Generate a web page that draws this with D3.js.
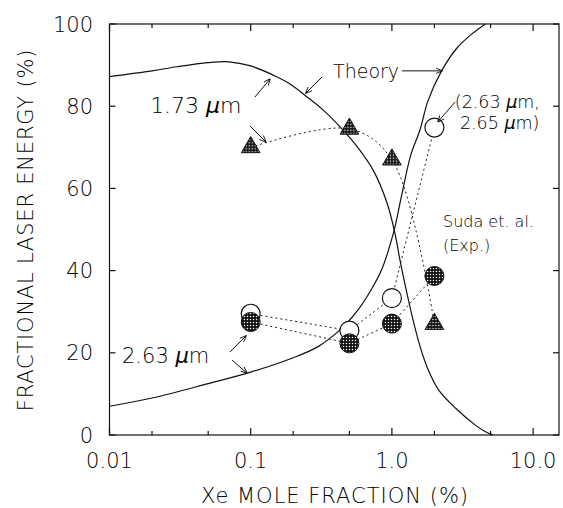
<!DOCTYPE html>
<html><head><meta charset="utf-8">
<script src="https://cdn.jsdelivr.net/npm/d3@7"></script>
<style>
html,body{margin:0;padding:0;background:#fff;}
text{font-family:"DejaVu Sans",sans-serif;font-weight:200;fill:#000;}
</style></head>
<body><svg id="c" width="563" height="508"></svg>
<script>
// ---- data ----
const theory173X = [0.01,0.02,0.03,0.05,0.07,0.1,0.15,0.19,0.243,0.325,0.451,0.566,0.735,0.923,1.05,1.14,1.25,1.4,1.6,1.8,2.14,2.83,3.9,4.6,5.2];
const theory173Y = [87.2,88.6,89.6,90.6,90.8,89.8,87.3,85.4,82.6,79.1,74.2,70.2,64.5,56.5,49.1,42.6,36,28.5,21,16,11,6.5,2.4,0.8,0];
const theory263X = [0.01,0.02,0.05,0.1,0.2,0.3,0.424,0.474,0.586,0.72,0.85,1.03,1.17,1.36,1.58,1.8,2.25,2.88,3.6,4.6];
const theory263Y = [7.0,9.0,12.5,15.3,18.8,21.5,25.4,27.0,30.8,35.6,40.4,49.4,58.2,68.1,74.2,81.3,88.6,94.1,97.3,100];
const expX = [0.1,0.5,1.0,2.0];
const exp173 = [70,74.5,67,27];          // triangles
const expOpen = [29.5,25.4,33.3,74.8];   // open circles (2.63 um, 2.65 um)
const expFilled = [27.5,22.3,27.1,38.7]; // filled circles (2.63 um)
const xMajor = [0.01,0.1,1,10];
const xMajorLabels = ["0.01","0.1","1.0","10.0"];
const xMinor = [0.02,0.05,0.2,0.5,2,5];
const yTicks = [0,20,40,60,80,100];
const yTickLabels = ["0","20","40","60","80","100"];

// ---- layout ----
const L=109.5, R=559, T=24, B=435;
const xMax = Math.pow(10, 1 + (R-533)/141.75);
const x = d3.scaleLog().domain([0.01, xMax]).range([L, R]);
const y = d3.scaleLinear().domain([0,100]).range([B, T]);
const svg = d3.select("#c");

const defs = svg.append("defs");
const pat = defs.append("pattern").attr("id","dots").attr("patternUnits","userSpaceOnUse")
  .attr("width",3).attr("height",3);
pat.append("rect").attr("width",3).attr("height",3).attr("fill","#111");
pat.append("circle").attr("cx",1.5).attr("cy",1.5).attr("r",0.75).attr("fill","#fff");
defs.append("marker").attr("id","arr").attr("viewBox","0 0 10 10").attr("refX",9).attr("refY",5)
  .attr("markerWidth",7).attr("markerHeight",7).attr("orient","auto").attr("markerUnits","userSpaceOnUse")
  .append("path").attr("d","M0,1 L10,5 L0,9").attr("fill","none").attr("stroke","#111").attr("stroke-width",1.3);

// ---- frame & ticks ----
const ax = svg.append("g").attr("stroke","#111").attr("stroke-width",1.2).attr("fill","none");
ax.append("rect").attr("x",L).attr("y",T).attr("width",R-L).attr("height",B-T);
xMajor.forEach(v=>{
  ax.append("line").attr("x1",x(v)).attr("x2",x(v)).attr("y1",B).attr("y2",B-7);
  ax.append("line").attr("x1",x(v)).attr("x2",x(v)).attr("y1",T).attr("y2",T+7);
});
xMinor.forEach(v=>{
  ax.append("line").attr("x1",x(v)).attr("x2",x(v)).attr("y1",B).attr("y2",B-4);
  ax.append("line").attr("x1",x(v)).attr("x2",x(v)).attr("y1",T).attr("y2",T+4);
});
yTicks.forEach(v=>{
  ax.append("line").attr("x1",L).attr("x2",L+6).attr("y1",y(v)).attr("y2",y(v));
  ax.append("line").attr("x1",R).attr("x2",R-6).attr("y1",y(v)).attr("y2",y(v));
});
svg.append("g").selectAll("text").data(yTicks).join("text")
  .attr("x",93).attr("y",d=>y(d)).attr("dy","0.36em").attr("text-anchor","end")
  .attr("font-size",21).text((d,i)=>yTickLabels[i]);
svg.append("g").selectAll("text").data(xMajor).join("text")
  .attr("x",d=>x(d)).attr("y",468).attr("text-anchor","middle")
  .attr("font-size",21).text((d,i)=>xMajorLabels[i]);
svg.append("text").attr("x",335).attr("y",503).attr("text-anchor","middle")
  .attr("font-size",21).attr("letter-spacing",1).text("Xe MOLE FRACTION (%)");
svg.append("text").attr("transform","translate(33,230) rotate(-90)").attr("text-anchor","middle")
  .attr("font-size",21).attr("letter-spacing",0.8).text("FRACTIONAL LASER ENERGY (%)");

// ---- theory curves ----
const line = d3.line().x(d=>x(d[0])).y(d=>y(d[1])).curve(d3.curveCatmullRom.alpha(0.5));
svg.append("path").attr("d",line(d3.zip(theory173X,theory173Y))).attr("fill","none").attr("stroke","#111").attr("stroke-width",1.2);
svg.append("path").attr("d",line(d3.zip(theory263X,theory263Y))).attr("fill","none").attr("stroke","#111").attr("stroke-width",1.2);

// ---- experimental connectors ----
const lin = d3.line().x(d=>x(d[0])).y(d=>y(d[1]));
const dash = {fill:"none",stroke:"#222","stroke-width":1,"stroke-dasharray":"2,3"};
function styl(s,o){for(const k in o)s.attr(k,o[k]);return s;}
styl(svg.append("path").attr("d",line(d3.zip(expX,exp173))),dash);
styl(svg.append("path").attr("d",lin(d3.zip(expX,expOpen))),dash);
styl(svg.append("path").attr("d",lin(d3.zip(expX,expFilled))),dash);

// ---- markers ----
svg.append("g").selectAll("circle").data(d3.zip(expX,expOpen)).join("circle")
  .attr("cx",d=>x(d[0])).attr("cy",d=>y(d[1])).attr("r",9.5)
  .attr("fill","#fff").attr("stroke","#111").attr("stroke-width",1.2);
svg.append("g").selectAll("circle").data(d3.zip(expX,expFilled)).join("circle")
  .attr("cx",d=>x(d[0])).attr("cy",d=>y(d[1])).attr("r",9.5)
  .attr("fill","url(#dots)").attr("stroke","#111").attr("stroke-width",1);
const tri = d3.symbol().type(d3.symbolTriangle).size(150);
svg.append("g").selectAll("path").data(d3.zip(expX,exp173)).join("path")
  .attr("transform",d=>`translate(${x(d[0])},${y(d[1])})`).attr("d",tri)
  .attr("fill","url(#dots)").attr("stroke","#111").attr("stroke-width",1);

// ---- annotations (data coordinates) ----
const arrows = [
  [[0.107,82.2],[0.137,86.6]],
  [[0.0989,75.2],[0.128,71.3]],
  [[0.32,87.1],[0.246,83.2]],
  [[1.18,88.6],[2.26,88.6]],
  [[2.80,81.0],[2.12,76.2]],
  [[0.0713,20.2],[0.0926,24.1]],
  [[0.0738,18.2],[0.094,15.1]]
];
svg.append("g").selectAll("path").data(arrows).join("path")
  .attr("d",d=>lin(d)).attr("fill","none").attr("stroke","#111").attr("stroke-width",1)
  .attr("marker-end","url(#arr)");

const labels = [
  {x:0.0194,y:78.3,size:22,t:["1.73 ","µ","m"]},
  {x:0.383,y:86.9,size:19,t:["Theory"]},
  {x:2.79,y:79.6,size:17.5,t:["(2.63 ","µ","m,"]},
  {x:3.03,y:74.5,size:17.5,t:["2.65 ","µ","m)"]},
  {x:2.30,y:50.6,size:16,t:["Suda et. al."]},
  {x:2.30,y:44.8,size:16,t:["(Exp.)"]},
  {x:0.01226,y:17.5,size:21,t:["2.63 ","µ","m"]}
];
labels.forEach(l=>{
  const tx = svg.append("text").attr("x",x(l.x)).attr("y",y(l.y)).attr("font-size",l.size);
  l.t.forEach((s,i)=>tx.append("tspan").attr("font-style",s==="µ"?"italic":null).text(s));
});
</script></body></html>
